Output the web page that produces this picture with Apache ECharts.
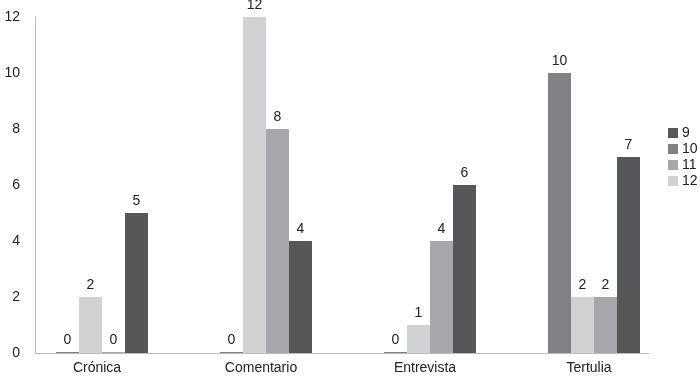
<!DOCTYPE html>
<html lang="es">
<head>
    <meta charset="UTF-8">
    <title>Gráfico</title>
    <script src="https://cdn.jsdelivr.net/npm/echarts@6/dist/echarts.min.js"></script>
    <style>body{margin:0;background:#fff}</style>
</head>
<body>
    <div id="ec" style="width:700px;height:379px"></div>
</body>
<script>
    var categorias = ['Crónica', 'Comentario', 'Entrevista', 'Tertulia']
    // bars are drawn in this order inside each group: 10, 12, 11, 9
    var serie10 = [0, 0, 0, 10]
    var serie12 = [2, 12, 1, 2]
    var serie11 = [0, 8, 4, 2]
    var serie9 = [5, 4, 6, 7]
    var yTicks = [0, 2, 4, 6, 8, 10, 12]

    var colores = {'9': '#565759', '10': '#808184', '11': '#a7a8ab', '12': '#d1d2d4'}

    var mychart = echarts.init(document.getElementById('ec'))

    function barra(nombre, datos) {
        return {
            name: nombre,
            type: 'bar',
            data: datos,
            barWidth: 23,
            barGap: '0%',
            barMinHeight: 1,
            itemStyle: {color: colores[nombre]},
            label: {
                show: true,
                position: 'top',
                distance: 5,
                color: '#222',
                fontSize: 14,
                fontFamily: 'Liberation Sans'
            }
        }
    }

    var options = {
        animation: false,
        textStyle: {fontFamily: 'Liberation Sans'},
        grid: {left: 20, right: 24, top: 17, bottom: 26},
        legend: {
            data: ['9', '10', '11', '12'],
            orient: 'vertical',
            left: 663,
            top: 121,
            itemWidth: 10,
            itemHeight: 10,
            itemGap: 2,
            icon: 'rect',
            textStyle: {fontSize: 14, color: '#222', padding: [0, 0, 0, -1]}
        },
        xAxis: {
            type: 'category',
            data: categorias,
            axisLine: {show: false},
            axisTick: {show: false},
            axisLabel: {color: '#222', fontSize: 14, margin: 8, padding: [0, 10, 0, 0]}
        },
        yAxis: {
            type: 'value',
            min: 0,
            max: 12,
            interval: 2,
            offset: -15,
            axisLine: {show: true, lineStyle: {color: '#bdbdbd'}},
            axisTick: {show: false},
            splitLine: {show: false},
            axisLabel: {
                color: '#222',
                fontSize: 14,
                margin: 15,
                formatter: function (v) { return yTicks.indexOf(v) >= 0 ? v : '' }
            }
        },
        graphic: [{
            type: 'line',
            shape: {x1: 35, y1: 353.5, x2: 649, y2: 353.5},
            style: {stroke: '#bdbdbd', lineWidth: 1},
            z: 0
        }],
        series: [
            barra('10', serie10),
            barra('12', serie12),
            barra('11', serie11),
            barra('9', serie9)
        ]
    }
    mychart.setOption(options)
</script>
</html>
